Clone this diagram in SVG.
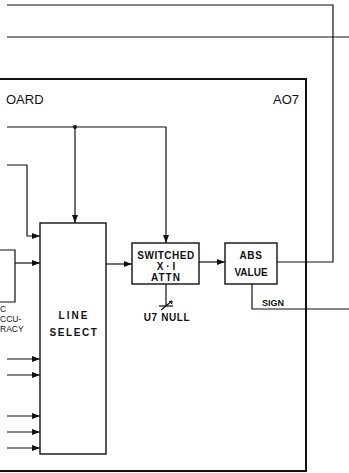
<svg xmlns="http://www.w3.org/2000/svg" width="349" height="473" viewBox="0 0 349 473">
<style>
.ln{stroke:#111;stroke-width:1.2;fill:none}
.bx{stroke:#111;stroke-width:1.4;fill:#fff}
.fr{stroke:#111;stroke-width:2;fill:none}
.t{font-family:"Liberation Sans",Arial,sans-serif;font-weight:bold;fill:#111;font-size:10px;text-anchor:middle}
.tl{font-family:"Liberation Sans",Arial,sans-serif;fill:#111;font-size:13px}
.ts{font-family:"Liberation Sans",Arial,sans-serif;fill:#111;font-size:8.5px}
</style>
<defs>
<marker id="ar" markerWidth="8" markerHeight="6" refX="8" refY="3" orient="auto" markerUnits="userSpaceOnUse">
<path d="M0,0 L8,3 L0,6 Z" fill="#111"/>
</marker>
</defs>
<rect width="349" height="473" fill="#fff"/>
<g id="frame">
<path class="fr" d="M0,79 H306 V471 H0"/>
<text class="tl" x="6" y="104">OARD</text>
<text class="tl" x="273" y="104">AO7</text>
</g>
<g id="connectors">
<path class="ln" d="M7,5 H333 V262 H277"/>
<path class="ln" d="M7,37 H349"/>
<path class="ln" d="M7,127 H166 V243" marker-end="url(#ar)"/>
<path class="ln" d="M75,127 V223" marker-end="url(#ar)"/>
<path class="ln" d="M7,165 H27 V236 H40" marker-end="url(#ar)"/>
<path class="ln" d="M0,250 H15 V302 H0"/>
<path class="ln" d="M15,263 H40" marker-end="url(#ar)"/>
<path class="ln" d="M7,359 H40" marker-end="url(#ar)"/>
<path class="ln" d="M7,375 H40" marker-end="url(#ar)"/>
<path class="ln" d="M7,416 H40" marker-end="url(#ar)"/>
<path class="ln" d="M7,432 H40" marker-end="url(#ar)"/>
<path class="ln" d="M7,448 H40" marker-end="url(#ar)"/>
<path class="ln" d="M106,264 H132" marker-end="url(#ar)"/>
<path class="ln" d="M199,262 H225" marker-end="url(#ar)"/>
<path class="ln" d="M252,284 V309 H349"/>
<path class="ln" d="M166,284 V306"/>
<path class="ln" d="M159,306 H173"/>
<path class="ln" d="M161,310 L172,301"/>
<path class="ln" d="M172,301 L169,301.5 M172,301 L171.5,304"/>
<circle cx="75" cy="127" r="2" fill="#111"/>
</g>
<g id="accuracy">
<text class="ts" x="0" y="312">C</text>
<text class="ts" x="0" y="322">CCU-</text>
<text class="ts" x="0" y="332">RACY</text>
</g>
<g id="line-select">
<rect class="bx" x="40" y="223" width="66" height="231"/>
<text class="t" x="74" y="319" style="letter-spacing:2px">LINE</text>
<text class="t" x="74" y="336" style="letter-spacing:1.6px">SELECT</text>
</g>
<g id="switched">
<rect class="bx" x="132" y="243" width="67" height="41"/>
<text class="t" x="166" y="259" style="letter-spacing:0.5px">SWITCHED</text>
<text class="t" x="166" y="270">X · I</text>
<text class="t" x="166" y="281" style="letter-spacing:1px">ATTN</text>
</g>
<text class="t" x="167" y="321" style="letter-spacing:0.6px">U7 NULL</text>
<g id="abs-value">
<rect class="bx" x="225" y="243" width="52" height="41"/>
<text class="t" x="251" y="259" style="letter-spacing:0.6px">ABS</text>
<text class="t" x="251" y="276">VALUE</text>
</g>
<text class="t" x="273" y="306" style="font-size:9px">SIGN</text>
</svg>
